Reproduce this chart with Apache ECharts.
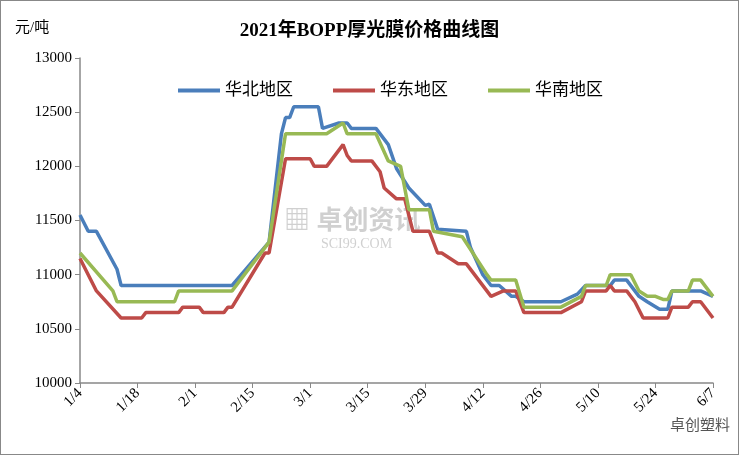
<!DOCTYPE html>
<html>
<head>
<meta charset="utf-8"/>
<script src="https://cdn.jsdelivr.net/npm/echarts@6/dist/echarts.min.js"></script>
<style>
    html, body {margin: 0; padding: 0; background: #fff;}
    #chart {width: 739px; height: 455px; box-sizing: border-box; border: 1px solid #888;}
</style>
</head>
<body>
<div id="chart"></div>
<script>
    // 日期轴：2021-01-04 到 06-07，每天一个分类
    var dayLabels = [];
    (function () {
        var d = new Date(2021, 0, 4);
        var end = new Date(2021, 5, 7);
        while (d <= end) {
            dayLabels.push((d.getMonth() + 1) + '/' + d.getDate());
            d.setDate(d.getDate() + 1);
        }
    })();

    var seriesNames = ['华北地区', '华东地区', '华南地区'];

    var northData = [
        ['1/4', 11550], ['1/6', 11400], ['1/8', 11400], ['1/13', 11050], ['1/14', 10900],
        ['2/10', 10900], ['2/19', 11300], ['2/22', 12300], ['2/23', 12450], ['2/24', 12450],
        ['2/25', 12550], ['3/3', 12550], ['3/4', 12350], ['3/8', 12400], ['3/10', 12400],
        ['3/11', 12350], ['3/17', 12350], ['3/20', 12200], ['3/22', 11980], ['3/25', 11800],
        ['3/29', 11640], ['3/30', 11650], ['4/1', 11420], ['4/8', 11400], ['4/9', 11250],
        ['4/12', 11000], ['4/14', 10900], ['4/16', 10900], ['4/19', 10800], ['4/20', 10800],
        ['4/22', 10750], ['5/1', 10750], ['5/5', 10820], ['5/7', 10900], ['5/13', 10900],
        ['5/14', 10950], ['5/17', 10950], ['5/20', 10800], ['5/22', 10750], ['5/25', 10680],
        ['5/27', 10680], ['5/28', 10850], ['6/4', 10850], ['6/7', 10800]
    ];
    var eastData = [
        ['1/4', 11150], ['1/8', 10850], ['1/14', 10600], ['1/19', 10600], ['1/20', 10650],
        ['1/28', 10650], ['1/29', 10700], ['2/2', 10700], ['2/3', 10650], ['2/8', 10650],
        ['2/9', 10700], ['2/10', 10700], ['2/18', 11200], ['2/19', 11200], ['2/23', 12070],
        ['3/1', 12070], ['3/2', 12000], ['3/5', 12000], ['3/9', 12200], ['3/10', 12100],
        ['3/11', 12050], ['3/16', 12050], ['3/18', 11950], ['3/19', 11800], ['3/22', 11700],
        ['3/24', 11700], ['3/26', 11400], ['3/30', 11400], ['4/1', 11200], ['4/2', 11200],
        ['4/6', 11100], ['4/8', 11100], ['4/14', 10800], ['4/17', 10850], ['4/20', 10850],
        ['4/22', 10650], ['5/1', 10650], ['5/6', 10750], ['5/7', 10850], ['5/12', 10850],
        ['5/13', 10900], ['5/14', 10850], ['5/17', 10850], ['5/19', 10750], ['5/21', 10600],
        ['5/27', 10600], ['5/28', 10700], ['6/1', 10700], ['6/2', 10750], ['6/4', 10750],
        ['6/7', 10600]
    ];
    var southData = [
        ['1/4', 11200], ['1/12', 10850], ['1/13', 10750], ['1/27', 10750], ['1/28', 10850],
        ['2/10', 10850], ['2/19', 11300], ['2/23', 12300], ['3/5', 12300], ['3/9', 12400],
        ['3/10', 12300], ['3/17', 12300], ['3/20', 12050], ['3/23', 12000], ['3/25', 11600],
        ['3/30', 11600], ['3/31', 11400], ['4/7', 11350], ['4/13', 11000], ['4/14', 10950],
        ['4/20', 10950], ['4/22', 10700], ['5/1', 10700], ['5/6', 10800], ['5/7', 10900],
        ['5/12', 10900], ['5/13', 11000], ['5/18', 11000], ['5/20', 10850], ['5/22', 10800],
        ['5/24', 10800], ['5/26', 10770], ['5/27', 10770], ['5/28', 10850], ['6/1', 10850],
        ['6/2', 10950], ['6/4', 10950], ['6/7', 10800]
    ];

    var colors = ['#4a7ebb', '#be4b48', '#98b954'];
    var font = "'Liberation Serif', 'Noto Sans CJK SC'";

    var myChart = echarts.init(document.getElementById('chart'));
    var option = {
        animation: false,
        color: colors,
        title: {
            text: '2021年BOPP厚光膜价格曲线图',
            left: 'center',
            top: 16,
            textStyle: {fontFamily: font, fontSize: 19, fontWeight: 'bold', color: '#000'}
        },
        legend: {
            top: 76,
            left: 172,
            itemGap: 40,
            itemWidth: 42,
            itemHeight: 4,
            icon: 'rect',
            data: seriesNames,
            textStyle: {fontFamily: font, fontSize: 17, color: '#000'}
        },
        graphic: [
            {type: 'text', left: 14, top: 20, style: {text: '元/吨', font: '15px ' + font, fill: '#000'}},
            {type: 'text', left: 283, top: 208, style: {text: '▦ 卓创资讯', font: 'bold 26px ' + font, fill: 'rgba(150,150,150,0.45)'}},
            {type: 'text', left: 320, top: 236, style: {text: 'SCI99.COM', font: '14px ' + font, fill: 'rgba(150,150,150,0.45)'}},
            {type: 'text', right: 8, top: 418, style: {text: '卓创塑料', font: '15px ' + font, fill: '#555'}}
        ],
        grid: {left: 79, right: 25, top: 57, bottom: 71},
        xAxis: {
            type: 'category',
            boundaryGap: false,
            data: dayLabels,
            axisLine: {lineStyle: {color: '#888', width: 1.5}},
            axisTick: {interval: 13, length: 5, lineStyle: {color: '#888'}},
            axisLabel: {interval: 13, rotate: 45, fontFamily: font, fontSize: 15, color: '#000', margin: 8}
        },
        yAxis: {
            type: 'value',
            min: 10000,
            max: 13000,
            interval: 500,
            splitLine: {show: false},
            axisLine: {show: true, lineStyle: {color: '#888', width: 1.5}},
            axisTick: {show: true, length: 5, lineStyle: {color: '#888'}},
            axisLabel: {fontFamily: font, fontSize: 15, color: '#000', formatter: function (v) { return String(v); }}
        },
        series: [
            {name: seriesNames[0], type: 'line', data: northData, showSymbol: false, lineStyle: {width: 3.5}},
            {name: seriesNames[1], type: 'line', data: eastData, showSymbol: false, lineStyle: {width: 3.5}},
            {name: seriesNames[2], type: 'line', data: southData, showSymbol: false, lineStyle: {width: 3.5}}
        ]
    };
    myChart.setOption(option);
</script>
</body>
</html>
